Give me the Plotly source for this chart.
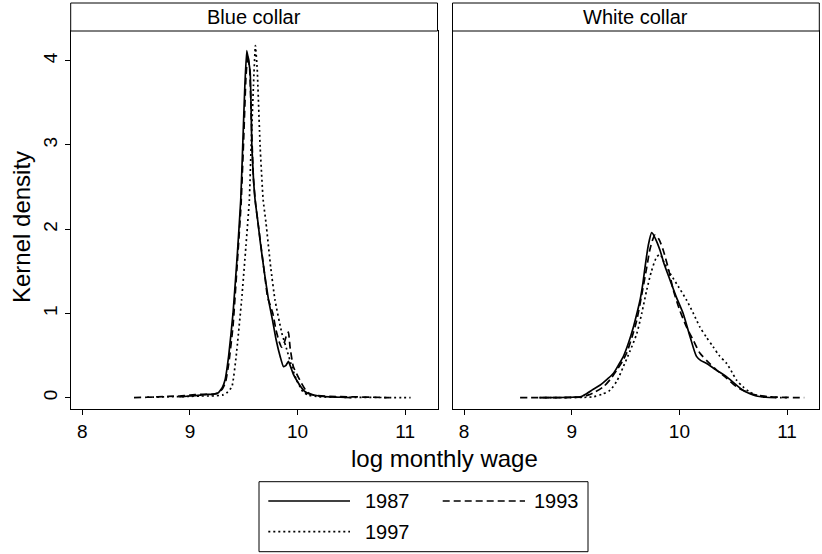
import plotly.graph_objects as go

W, H = 822, 554

# ---------------- data ----------------
panels = ["Blue collar", "White collar"]
years = ["1987", "1993", "1997"]

blue_1987_x = [8.90, 9.00, 9.10, 9.15, 9.20, 9.26, 9.30, 9.326, 9.36, 9.40, 9.44, 9.472, 9.49, 9.51,
               9.528, 9.545, 9.56, 9.575, 9.59, 9.605, 9.63, 9.651, 9.69, 9.73, 9.77, 9.80, 9.84,
               9.868, 9.89, 9.915, 9.94, 9.96, 9.99, 10.03, 10.07, 10.12, 10.2, 10.3, 10.4, 10.5]
blue_1987_y = [0.01, 0.02, 0.03, 0.04, 0.04, 0.055, 0.12, 0.21, 0.5, 1.0, 1.7, 2.35, 2.98, 3.7,
               4.12, 4.0, 3.85, 3.0, 2.6, 2.35, 2.1, 1.87, 1.5, 1.16, 0.9, 0.69, 0.48,
               0.37, 0.38, 0.43, 0.35, 0.28, 0.21, 0.13, 0.07, 0.04, 0.02, 0.01, 0.005, 0.0]

blue_1993_x = [8.48, 8.6, 8.7, 8.8, 8.9, 9.0, 9.1, 9.2, 9.25, 9.3, 9.33, 9.36, 9.40, 9.44, 9.475,
               9.5, 9.52, 9.537, 9.555, 9.57, 9.59, 9.61, 9.64, 9.67, 9.70, 9.72, 9.74, 9.77,
               9.80, 9.83, 9.853, 9.875, 9.9, 9.915, 9.93, 9.96, 10.02, 10.085, 10.15, 10.3,
               10.5, 10.7, 10.85]
blue_1993_y = [0.0, 0.005, 0.01, 0.015, 0.02, 0.03, 0.04, 0.04, 0.05, 0.1, 0.18, 0.4, 0.85, 1.6, 2.3,
               3.1, 3.8, 4.07, 3.9, 3.3, 2.6, 2.3, 2.0, 1.7, 1.4, 1.2, 1.12, 1.0,
               0.8, 0.66, 0.6, 0.65, 0.75, 0.78, 0.6, 0.37, 0.21, 0.07, 0.03, 0.015,
               0.01, 0.005, 0.0]

blue_1997_x = [8.6, 8.8, 9.0, 9.1, 9.2, 9.3, 9.34, 9.39, 9.43, 9.48, 9.52, 9.552, 9.568, 9.59,
               9.608, 9.625, 9.652, 9.68, 9.707, 9.75, 9.79, 9.853, 9.9, 9.946, 9.99, 10.05,
               10.1, 10.2, 10.4, 10.6, 10.8, 11.05]
blue_1997_y = [0.005, 0.01, 0.015, 0.02, 0.02, 0.03, 0.055, 0.13, 0.5, 1.16, 1.8, 2.35, 2.98, 3.7,
               4.18, 3.9, 2.98, 2.35, 2.07, 1.55, 1.16, 0.77, 0.57, 0.37, 0.21, 0.07,
               0.03, 0.01, 0.005, 0.003, 0.002, 0.0]

white_1987_x = [8.7, 8.9, 9.0, 9.08, 9.14, 9.2, 9.265, 9.33, 9.388, 9.44, 9.48, 9.53, 9.573,
                9.605, 9.635, 9.66, 9.681, 9.71, 9.743, 9.78, 9.82, 9.86, 9.912, 9.97, 10.035,
                10.10, 10.159, 10.2, 10.25, 10.34, 10.437, 10.52, 10.59, 10.65, 10.714, 10.8, 10.9]
white_1987_y = [0.0, 0.002, 0.005, 0.01, 0.05, 0.1, 0.15, 0.22, 0.29, 0.4, 0.49, 0.66, 0.84,
                1.0, 1.16, 1.35, 1.55, 1.8, 1.96, 1.88, 1.75, 1.58, 1.40, 1.2, 1.0,
                0.72, 0.49, 0.44, 0.41, 0.33, 0.25, 0.16, 0.09, 0.05, 0.02, 0.005, 0.0]

white_1993_x = [8.52, 8.8, 9.0, 9.1, 9.15, 9.22, 9.295, 9.36, 9.42, 9.47, 9.51, 9.56, 9.604, 9.65,
                9.697, 9.73, 9.773, 9.81, 9.85, 9.9, 9.943, 10.0, 10.066, 10.13, 10.19, 10.27,
                10.344, 10.44, 10.53, 10.62, 10.72, 10.85, 11.0, 11.16]
white_1993_y = [0.0, 0.0, 0.003, 0.01, 0.03, 0.07, 0.13, 0.22, 0.33, 0.43, 0.53, 0.72, 0.92, 1.22,
                1.55, 1.78, 1.93, 1.88, 1.75, 1.52, 1.28, 1.05, 0.84, 0.68, 0.53, 0.42,
                0.33, 0.23, 0.13, 0.07, 0.03, 0.01, 0.003, 0.0]

white_1997_x = [8.7, 9.0, 9.1, 9.2, 9.28, 9.357, 9.42, 9.48, 9.54, 9.604, 9.65, 9.697, 9.74, 9.789,
                9.82, 9.86, 9.912, 9.99, 10.066, 10.13, 10.19, 10.25, 10.313, 10.37, 10.437,
                10.49, 10.53, 10.59, 10.65, 10.72, 10.8, 10.9, 11.0]
white_1997_y = [0.0, 0.002, 0.004, 0.01, 0.04, 0.09, 0.2, 0.37, 0.55, 0.76, 1.0, 1.28, 1.5, 1.67,
                1.7, 1.6, 1.48, 1.32, 1.16, 1.0, 0.84, 0.72, 0.605, 0.5, 0.41,
                0.3, 0.21, 0.13, 0.07, 0.03, 0.01, 0.003, 0.0]

x_ticks = [8, 9, 10, 11]
y_ticks = [0, 1, 2, 3, 4]
x_title = "log monthly wage"
y_title = "Kernel density"

# ---------------- styling ----------------
FONT = "Liberation Sans, Arial, Helvetica, sans-serif"
dashes = {"1987": "solid", "1993": "7px,4px", "1997": "2px,3px"}
LW = 1.7

def px_x(p):
    return p / W

def px_y(p):
    return 1 - p / H

series = {
    ("Blue collar", "1987"): (blue_1987_x, blue_1987_y),
    ("Blue collar", "1993"): (blue_1993_x, blue_1993_y),
    ("Blue collar", "1997"): (blue_1997_x, blue_1997_y),
    ("White collar", "1987"): (white_1987_x, white_1987_y),
    ("White collar", "1993"): (white_1993_x, white_1993_y),
    ("White collar", "1997"): (white_1997_x, white_1997_y),
}

fig = go.Figure()
for i, pan in enumerate(panels):
    xa = "x" if i == 0 else "x2"
    ya = "y" if i == 0 else "y2"
    for yr in years:
        xs, ys = series[(pan, yr)]
        fig.add_trace(go.Scatter(
            x=xs, y=ys, mode="lines", xaxis=xa, yaxis=ya,
            line=dict(color="black", width=LW, dash=dashes[yr],
                      shape="spline", smoothing=0.4 if i == 0 else 0.7),
            name=yr, showlegend=False, hoverinfo="skip"))

# panel pixel geometry
left_dom = [px_x(70.7), px_x(437.5)]
right_dom = [px_x(452.5), px_x(819.3)]
plot_top, plot_bot = 31, 409.3
y_dom = [px_y(plot_bot), px_y(plot_top)]
xr = [7.892, 11.30]
yr_ = [-0.138, 4.353]

axis_common = dict(showline=True, linecolor="black", linewidth=1, mirror=True,
                   showgrid=False, zeroline=False, ticks="outside", ticklen=5,
                   tickcolor="black", tickwidth=1,
                   tickfont=dict(family=FONT, size=19, color="black"))

fig.update_layout(
    width=W, height=H, margin=dict(l=0, r=0, t=0, b=0),
    plot_bgcolor="white", paper_bgcolor="white", showlegend=False,
    xaxis=dict(domain=left_dom, range=xr, tickvals=x_ticks, anchor="y", **axis_common),
    yaxis=dict(domain=y_dom, range=yr_, tickvals=y_ticks, tickangle=-90, anchor="x",
               **axis_common),
    xaxis2=dict(domain=right_dom, range=xr, tickvals=x_ticks, anchor="y2", **axis_common),
    yaxis2=dict(domain=y_dom, range=yr_, tickvals=y_ticks, anchor="x2", matches="y",
                **{**axis_common, "ticks": "", "showticklabels": False}),
)

shapes = []
annotations = []
# header strips
for dom, pan in [(left_dom, panels[0]), (right_dom, panels[1])]:
    shapes.append(dict(type="rect", xref="paper", yref="paper",
                       x0=dom[0], x1=dom[1], y0=px_y(plot_top), y1=px_y(3),
                       line=dict(color="black", width=1), fillcolor="white"))
    annotations.append(dict(xref="paper", yref="paper", x=(dom[0] + dom[1]) / 2,
                            y=px_y(17), text=pan, showarrow=False,
                            xanchor="center", yanchor="middle",
                            font=dict(family=FONT, size=20, color="black")))

# axis titles
annotations.append(dict(xref="paper", yref="paper", x=(left_dom[0] + right_dom[1]) / 2,
                        y=px_y(458), text=x_title, showarrow=False,
                        xanchor="center", yanchor="middle",
                        font=dict(family=FONT, size=24, color="black")))
annotations.append(dict(xref="paper", yref="paper", x=px_x(21), y=px_y(227),
                        text=y_title, showarrow=False, textangle=-90,
                        xanchor="center", yanchor="middle",
                        font=dict(family=FONT, size=24, color="black")))

# legend (custom, drawn in paper coordinates)
shapes.append(dict(type="rect", xref="paper", yref="paper",
                   x0=px_x(259), x1=px_x(588), y0=px_y(551.7), y1=px_y(481.7),
                   line=dict(color="black", width=1), fillcolor="white"))
leg_items = [("1987", 268.3, 350, 501, 363), ("1993", 442.7, 525, 501, 532),
             ("1997", 268.3, 350, 531.7, 363)]
for yr, lx0, lx1, ly, tx in leg_items:
    shapes.append(dict(type="line", xref="paper", yref="paper",
                       x0=px_x(lx0), x1=px_x(lx1), y0=px_y(ly), y1=px_y(ly),
                       line=dict(color="black", width=LW, dash=dashes[yr])))
    annotations.append(dict(xref="paper", yref="paper", x=px_x(tx), y=px_y(ly),
                            text=yr, showarrow=False, xanchor="left", yanchor="middle",
                            font=dict(family=FONT, size=20, color="black")))

fig.update_layout(shapes=shapes, annotations=annotations)
fig.write_html("out.html")
